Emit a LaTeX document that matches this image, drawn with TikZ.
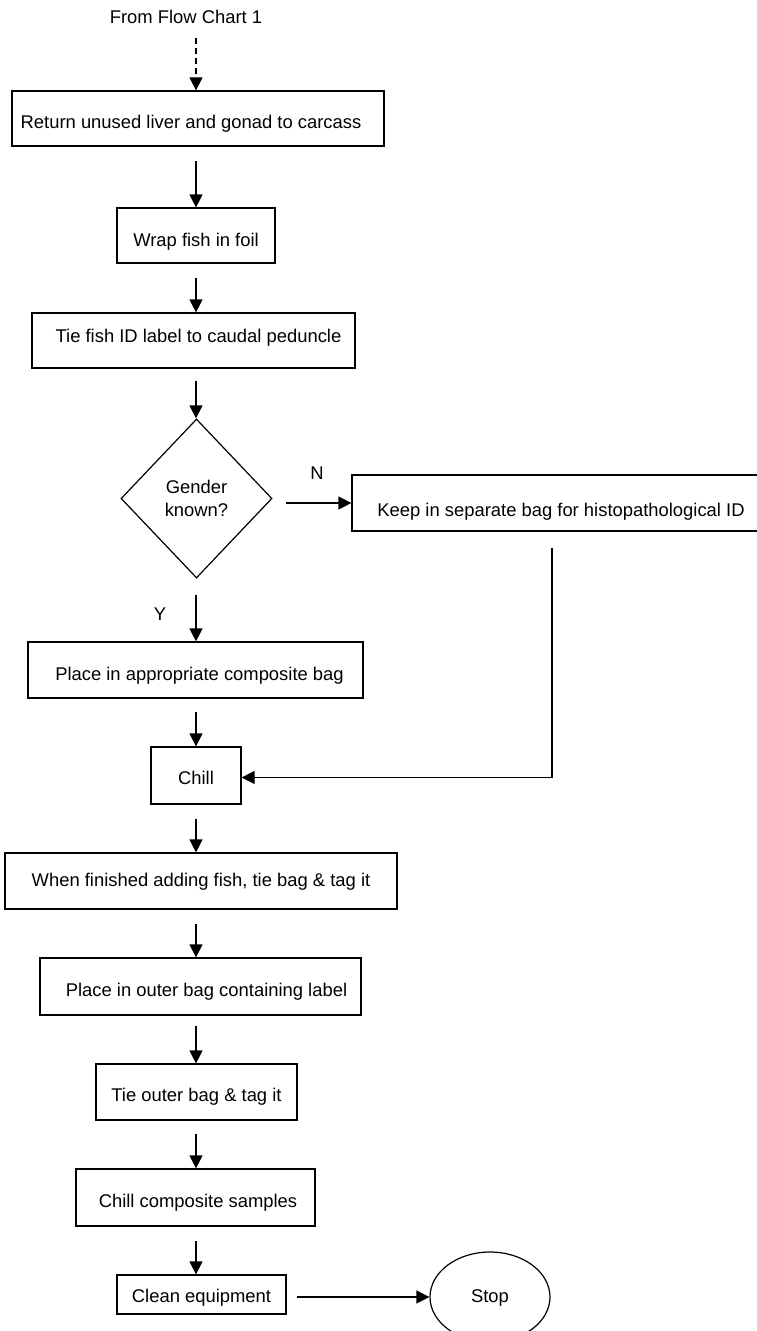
\documentclass[tikz,border=0pt]{standalone}
\usepackage{fontspec}
\setmainfont{Liberation Sans}
\usetikzlibrary{arrows.meta,shapes.geometric}
\begin{document}
\begin{tikzpicture}[x=1pt,y=-1pt,
  font=\fontsize{18.4}{23}\selectfont,
  box/.style={draw, line width=1.2pt, inner sep=0pt, align=center, text depth=0pt},
  arr/.style={line width=1.2pt, -{Triangle[length=13pt,width=13pt]}},
  lbl/.style={inner sep=0pt}]
\useasboundingbox (0,0) rectangle (756,1331);
\coordinate (X) at (196,0);
\node[lbl] (from) at (186,16.5) {From Flow Chart 1};
\node[box, minimum width=372pt, minimum height=55pt, text height=19.2pt] (ret) at (198,118.5) {Return unused liver and gonad to carcass\hspace*{14pt}};
\node[box, minimum width=158pt, minimum height=55pt, text height=21.2pt] (wrap) at (196,235.5) {Wrap fish in foil};
\node[box, minimum width=323pt, minimum height=55pt, text height=4.2pt] (tie) at (193.5,340.5) {\hspace*{10pt}Tie fish ID label to caudal peduncle};
\node[box, diamond, minimum width=151pt, minimum height=159pt, text depth=] (dia) at (196.5,498.5) {Gender\\known?};
\node[box, minimum width=408pt, minimum height=56pt, text height=26.2pt] (keep) at (556,503) {\hspace*{10pt}Keep in separate bag for histopathological ID};
\node[box, minimum width=335pt, minimum height=56pt, text height=20.2pt] (place) at (195.5,670) {\hspace*{8pt}Place in appropriate composite bag};
\node[box, minimum width=90pt, minimum height=57pt, text height=17.2pt] (chill) at (196,775.5) {Chill};
\node[box, minimum width=392pt, minimum height=56pt, text height=10.2pt] (when) at (201,881) {When finished adding fish, tie bag \& tag it};
\node[box, minimum width=321pt, minimum height=57pt, text height=19.2pt] (outer) at (200.5,986.5) {\hspace*{12pt}Place in outer bag containing label};
\node[box, minimum width=201pt, minimum height=56pt, text height=19.2pt] (tieo) at (196.5,1092) {Tie outer bag \& tag it};
\node[box, minimum width=239pt, minimum height=57pt, text height=19.2pt] (chillc) at (195.5,1197.5) {\hspace*{5pt}Chill composite samples};
\node[box, minimum width=169pt, minimum height=39pt, text height=15.2pt] (clean) at (201.5,1294.5) {Clean equipment};
\node[box, ellipse, minimum width=120pt, minimum height=90pt, text height=10.2pt] (stop) at (490,1297) {Stop};
\node[lbl] (N) at (317,473) {N};
\node[lbl] (Y) at (160,614) {Y};
\coordinate (turn) at (552,777.5);
\draw[arr, dashed, dash pattern=on 6pt off 4pt] ([yshift=-15pt]from.south -| X) -- (ret.north -| X);
\draw[arr] ([yshift=-14pt]ret.south -| X) -- (wrap.north -| X);
\draw[arr] ([yshift=-14pt]wrap.south -| X) -- (tie.north -| X);
\draw[arr] ([yshift=-12pt]tie.south -| X) -- (dia.north -| X);
\draw[arr] ([xshift=13pt]dia.east |- keep.west) -- (keep.west);
\draw[arr] ([yshift=-16pt]dia.south -| X) -- (place.north -| X);
\draw[arr] ([yshift=-13pt]place.south -| X) -- (chill.north -| X);
\draw[line width=1.2pt] ([yshift=-16pt]keep.south -| turn) -- (turn);
\draw[arr] (turn) -- (chill.east |- turn);
\draw[arr] ([yshift=-14pt]chill.south -| X) -- (when.north -| X);
\draw[arr] ([yshift=-14pt]when.south -| X) -- (outer.north -| X);
\draw[arr] ([yshift=-10pt]outer.south -| X) -- (tieo.north -| X);
\draw[arr] ([yshift=-13pt]tieo.south -| X) -- (chillc.north -| X);
\draw[arr] ([yshift=-14pt]chillc.south -| X) -- (clean.north -| X);
\draw[arr] ([xshift=10pt]clean.east |- stop.west) -- (stop.west);
\end{tikzpicture}
\end{document}
